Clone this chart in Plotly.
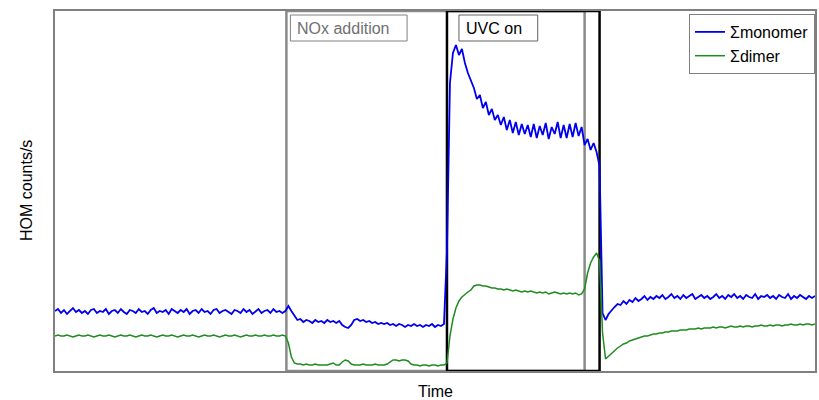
import numpy as np
import plotly.graph_objects as go

# sampling step along the (unitless) time axis
TIME_STEP = 3

# Σmonomer signal (arbitrary counts), one value per time step
monomer = [
    60, 62, 58, 61, 57, 60, 63, 59, 61, 58,
    60, 57, 61, 62, 58, 60, 59, 62, 57, 60,
    61, 58, 62, 59, 57, 61, 60, 58, 62, 59,
    60, 57, 61, 63, 58, 60, 59, 61, 57, 62,
    60, 58, 61, 59, 62, 57, 60, 61, 58, 62,
    59, 60, 57, 61, 62, 58, 60, 61, 59, 57,
    61, 60, 58, 62, 59, 61, 57, 60, 62, 58,
    60, 61, 58, 62, 59, 60, 58, 60, 65, 60,
    55, 51, 52, 49, 51, 50, 48, 51, 49, 50,
    48, 51, 49, 50, 48, 50, 46, 44, 43, 46,
    51, 52, 50, 51, 49, 50, 48, 49, 47, 48,
    47, 48, 46, 47, 45, 47, 46, 44, 46, 45,
    47, 45, 46, 44, 46, 45, 47, 44, 46, 45,
    47, 120, 288, 318, 326, 316, 322, 308, 298, 290,
    283, 272, 276, 263, 269, 256, 262, 251, 256, 246,
    254, 241, 251, 238, 249, 236, 247, 237, 246, 234,
    247, 233, 245, 236, 248, 232, 244, 237, 249, 233,
    246, 233, 247, 234, 248, 235, 244, 226, 232, 221,
    228, 219, 205, 58, 51, 57, 61, 64, 67, 66,
    70, 67, 71, 69, 73, 70, 72, 75, 71, 74,
    72, 75, 73, 76, 72, 74, 77, 73, 75, 72,
    76, 73, 75, 77, 72, 74, 76, 73, 75, 72,
    74, 77, 73, 75, 72, 76, 74, 77, 73, 75,
    72, 76, 74, 73, 77, 72, 75, 74, 76, 73,
    75, 72, 76, 74, 73, 77, 72, 75, 73, 76,
    74, 72, 75, 73, 75,
]

# Σdimer signal (arbitrary counts)
dimer = [
    35, 36, 35, 35, 36, 35, 34, 35, 36, 35,
    35, 36, 35, 34, 35, 36, 35, 35, 36, 35,
    34, 35, 36, 35, 35, 36, 35, 34, 35, 36,
    35, 35, 36, 35, 34, 35, 36, 35, 35, 36,
    35, 34, 35, 36, 35, 35, 36, 35, 34, 35,
    36, 35, 35, 36, 35, 34, 35, 36, 35, 35,
    36, 35, 34, 35, 36, 35, 35, 36, 35, 35,
    36, 35, 35, 36, 35, 35, 36, 35, 28, 14,
    8, 7, 7, 6, 7, 6, 6, 7, 6, 6,
    6, 6, 7, 8, 6, 6, 9, 11, 10, 7,
    6, 6, 6, 7, 6, 6, 6, 7, 6, 6,
    6, 7, 9, 11, 11, 10, 11, 11, 10, 7,
    6, 6, 5, 6, 6, 5, 6, 6, 5, 6,
    6, 8, 35, 52, 63, 70, 74, 77, 79, 81,
    85, 86, 86, 85, 85, 84, 83, 83, 82, 82,
    81, 82, 81, 80, 81, 80, 79, 80, 79, 80,
    79, 78, 79, 78, 79, 77, 78, 79, 78, 77,
    78, 77, 78, 77, 78, 76, 77, 82, 98, 108,
    114, 118, 110, 38, 12, 15, 18, 21, 23, 25,
    27, 28, 30, 31, 32, 33, 34, 35, 35, 36,
    37, 37, 38, 38, 39, 39, 40, 40, 40, 41,
    41, 41, 42, 42, 42, 43, 42, 43, 43, 43,
    44, 43, 44, 44, 43, 44, 45, 44, 44, 45,
    44, 45, 45, 44, 45, 45, 46, 45, 45, 46,
    45, 46, 46, 45, 46, 46, 47, 46, 46, 47,
    46, 47, 47, 46, 47,
]

series_names = ["\u03a3monomer", "\u03a3dimer"]
series_colors = ["#0000EE", "#1E8C1E"]

# event periods on the time axis
nox_period = [232, 531]
uvc_period = [393, 546]
period_labels = ["NOx addition", "UVC on"]

x_range = [0, 762]
y_range = [0, 360]

time = np.arange(len(monomer)) * TIME_STEP

FONT = "Liberation Sans, Arial, sans-serif"

fig = go.Figure()
for name, vals, col, w in zip(series_names, [monomer, dimer], series_colors, [1.8, 1.5]):
    fig.add_trace(go.Scatter(x=time, y=vals, mode="lines", name=name,
                             line=dict(color=col, width=w)))

# period rectangles
fig.add_shape(type="rect", xref="x", yref="paper", x0=nox_period[0], x1=nox_period[1],
              y0=0, y1=1, line=dict(color="#8a8a8a", width=2.5), layer="below")
fig.add_shape(type="rect", xref="x", yref="paper", x0=uvc_period[0], x1=uvc_period[1],
              y0=0, y1=1, line=dict(color="#000000", width=2.5), layer="below")

# label boxes
def label_box(x0, x1, text, color, border):
    fig.add_shape(type="rect", xref="x", yref="paper", x0=x0, x1=x1,
                  y0=(371 - 41) / 360, y1=(371 - 15) / 360,
                  line=dict(color=border, width=1), fillcolor="white", layer="above")
    fig.add_annotation(xref="x", yref="paper", x=x0, xshift=5, y=(371 - 28) / 360,
                       xanchor="left", yanchor="middle", text=text, showarrow=False,
                       font=dict(family=FONT, size=16, color=color))

label_box(nox_period[0] + 4, nox_period[0] + 121, period_labels[0], "#707070", "#808080")
label_box(uvc_period[0] + 12, uvc_period[0] + 91, period_labels[1], "#000000", "#606060")

# axis titles
fig.add_annotation(xref="paper", yref="paper", x=0, xshift=-29, y=0.5,
                   text="HOM counts/s", textangle=-90, showarrow=False,
                   xanchor="center", yanchor="middle",
                   font=dict(family=FONT, size=16, color="#000000"))
fig.add_annotation(xref="paper", yref="paper", x=0.5, y=0, yshift=-20,
                   text="Time", showarrow=False, xanchor="center", yanchor="middle",
                   font=dict(family=FONT, size=16, color="#000000"))

fig.update_layout(
    width=819, height=400,
    margin=dict(l=55, r=2, t=11, b=29),
    paper_bgcolor="white", plot_bgcolor="white",
    font=dict(family=FONT, size=16, color="#000000"),
    showlegend=True,
    legend=dict(x=1, xanchor="right", y=(371 - 14) / 360, yanchor="top",
                bgcolor="white", bordercolor="#808080", borderwidth=1,
                font=dict(family=FONT, size=16), tracegroupgap=0, itemwidth=30),
    xaxis=dict(range=x_range, showticklabels=False, ticks="", showgrid=False,
               zeroline=False, showline=True, mirror=True, linecolor="#808080", linewidth=1.5),
    yaxis=dict(range=y_range, showticklabels=False, ticks="", showgrid=False,
               zeroline=False, showline=True, mirror=True, linecolor="#808080", linewidth=1.5),
)

fig.write_html("out.html")
